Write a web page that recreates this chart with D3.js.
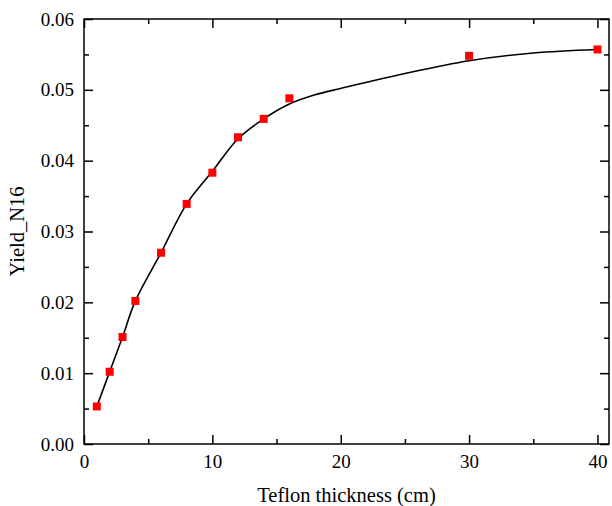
<!DOCTYPE html>
<html>
<head>
<meta charset="utf-8">
<script src="https://cdn.jsdelivr.net/npm/d3@7"></script>
<style>
  html, body { margin: 0; padding: 0; background: #fff; }
</style>
</head>
<body>
<svg id="chart" width="612" height="506"></svg>
<script>
// Measured data points (red squares)
const thickness = [1, 2, 3, 4, 6, 8, 10, 12, 14, 16, 30, 40];
const yieldN16 = [0.0053, 0.0102, 0.0151, 0.0202, 0.0270, 0.0339, 0.0383, 0.0433, 0.0459, 0.0488, 0.0548, 0.0557];

// Fitted / smoothed curve (black line)
const fitX = [1, 2, 3, 4, 6, 8, 10, 12, 14, 16, 18, 20, 25, 30, 35, 40];
const fitY = [0.0053, 0.0102, 0.0151, 0.0202, 0.0270, 0.0339, 0.0385, 0.0431, 0.0459, 0.0480, 0.0493, 0.0502, 0.0523, 0.0541, 0.0552, 0.0557];

// Axis ticks
const xMajorTicks = [0, 10, 20, 30, 40];
const xMinorTicks = [5, 15, 25, 35];
const yMajorTicks = [0, 0.01, 0.02, 0.03, 0.04, 0.05, 0.06];
const yMinorTicks = [0.005, 0.015, 0.025, 0.035, 0.045, 0.055];

const xTitle = "Teflon thickness (cm)";
const yTitle = "Yield_N16";

(function () {
const FONT = "'Liberation Serif', 'Times New Roman', Tinos, 'DejaVu Serif', serif";
const svg = d3.select("#chart");
const mL = 84, mR = 609, mT = 19, mB = 444;

const x = d3.scaleLinear().domain([0, 40.9]).range([mL, mR]);
const y = d3.scaleLinear().domain([0, 0.06]).range([mB, mT]);

const g = svg.append("g");

// Frame
g.append("rect")
  .attr("x", mL).attr("y", mT)
  .attr("width", mR - mL).attr("height", mB - mT)
  .attr("fill", "none").attr("stroke", "#000").attr("stroke-width", 1.5);

const majorLen = 9, minorLen = 5;

function axis(gen, pos, ticks, len, isX, labels, pad) {
  const a = gen.tickValues(ticks).tickSizeInner(-len).tickSizeOuter(0);
  if (labels) a.tickPadding(pad).tickFormat(labels); else a.tickFormat("");
  const sel = g.append("g")
    .attr("transform", isX ? `translate(0,${pos})` : `translate(${pos},0)`)
    .call(a);
  sel.attr("font-family", FONT).attr("font-size", 19);
  sel.select(".domain").remove();
  sel.selectAll("line").attr("stroke-width", 1.5).attr("stroke", "#000");
  sel.selectAll("text").attr("font-family", FONT).attr("font-size", 19).attr("fill", "#000");
  return sel;
}

axis(d3.axisBottom(x), mB, xMajorTicks, majorLen, true, d3.format("d"), 11);
axis(d3.axisBottom(x), mB, xMinorTicks, minorLen, true, null);
axis(d3.axisTop(x), mT, xMajorTicks, majorLen, true, null);
axis(d3.axisTop(x), mT, xMinorTicks, minorLen, true, null);
axis(d3.axisLeft(y), mL, yMajorTicks, majorLen, false, d3.format(".2f"), 10);
axis(d3.axisLeft(y), mL, yMinorTicks, minorLen, false, null);
axis(d3.axisRight(y), mR, yMajorTicks, majorLen, false, null);
axis(d3.axisRight(y), mR, yMinorTicks, minorLen, false, null);

// Fit line
const fitData = fitX.map((d, i) => ({ x: d, y: fitY[i] }));
g.append("path")
  .datum(fitData)
  .attr("fill", "none")
  .attr("stroke", "#000")
  .attr("stroke-width", 1.6)
  .attr("d", d3.line().x(d => x(d.x)).y(d => y(d.y)).curve(d3.curveCatmullRom.alpha(0.5)));

// Points
const pts = thickness.map((d, i) => ({ x: d, y: yieldN16[i] }));
const s = 8;
g.selectAll("rect.pt").data(pts).enter().append("rect")
  .attr("class", "pt")
  .attr("x", d => x(d.x) - s / 2)
  .attr("y", d => y(d.y) - s / 2)
  .attr("width", s).attr("height", s)
  .attr("fill", "#ff0000");

// Titles
svg.append("text")
  .attr("x", (mL + mR) / 2).attr("y", 502)
  .attr("text-anchor", "middle").attr("font-size", 20.5).attr("font-family", FONT)
  .text(xTitle);
svg.append("text")
  .attr("transform", `translate(24,${(mT + mB) / 2}) rotate(-90)`)
  .attr("text-anchor", "middle").attr("font-size", 20.5).attr("font-family", FONT)
  .text(yTitle);
})();
</script>
</body>
</html>
